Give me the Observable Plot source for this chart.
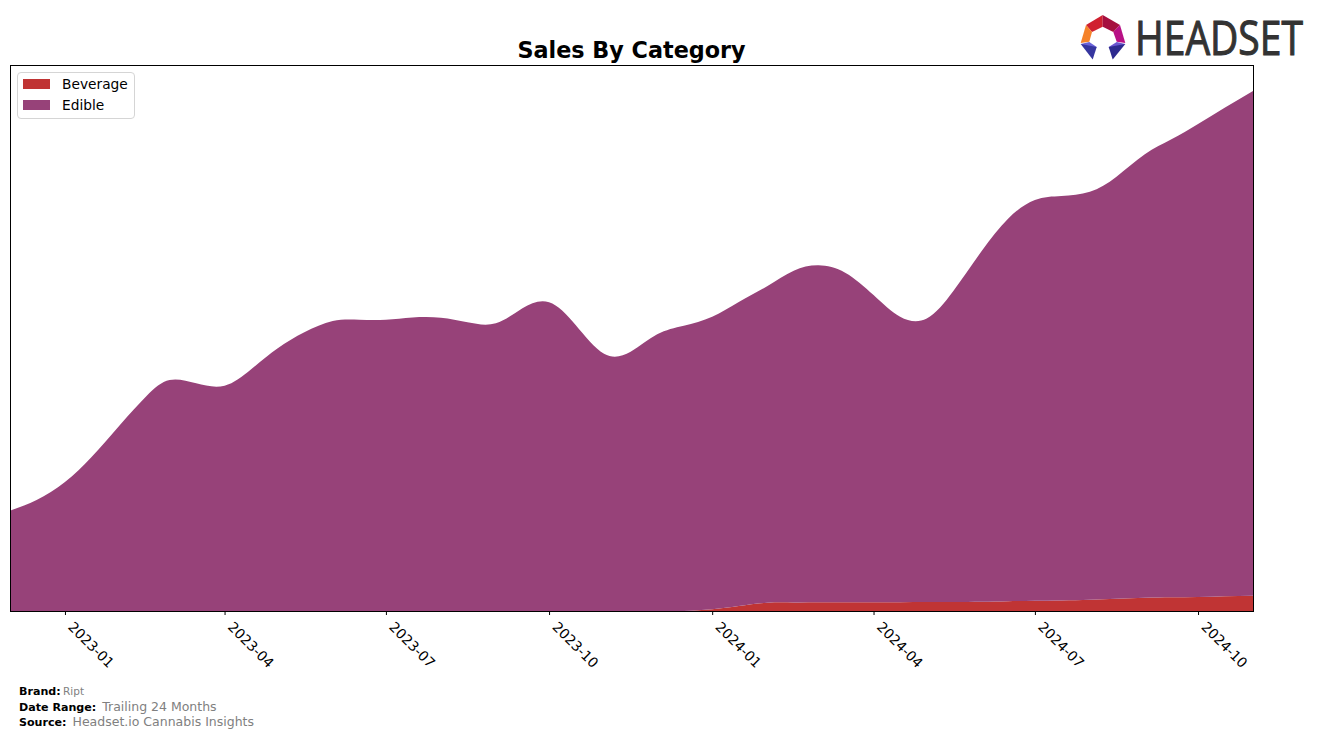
<!DOCTYPE html>
<html>
<head>
<meta charset="utf-8">
<script src="https://cdn.jsdelivr.net/npm/d3@7"></script>
<script src="https://cdn.jsdelivr.net/npm/@observablehq/plot@0.6"></script>
<style>
html,body{margin:0;padding:0;background:#fff;overflow:hidden;}
body{width:1317px;height:739px;position:relative;font-family:"DejaVu Sans",sans-serif;}
#chart{position:absolute;left:0;top:0;}
#title{position:absolute;left:10px;width:1243px;top:36px;text-align:center;font-size:22.3px;font-weight:bold;line-height:28px;color:#000;}
#legend{position:absolute;left:17px;top:72px;width:116px;height:45px;border:1px solid #d5d5d5;border-radius:4px;background:#fff;}
.item{position:absolute;left:5px;font-size:13.75px;line-height:16px;color:#000;white-space:nowrap;padding-left:39px;}
.sw{position:absolute;left:0;top:3px;width:27px;height:10px;}
.foot{position:absolute;left:19px;white-space:nowrap;line-height:14px;color:#808080;}
.foot b{color:#000;font-size:11.1px;margin-right:2px;}
#logo{position:absolute;left:1070px;top:0;}
</style>
</head>
<body>
<div id="chart"></div>
<div id="title">Sales By Category</div>
<div id="legend"></div>
<div class="foot" style="top:684px;font-size:10.5px;"><b style="margin-right:-1px">Brand:</b> Ript</div>
<div class="foot" style="top:700px;font-size:12.5px;"><b>Date Range:</b> Trailing 24 Months</div>
<div class="foot" style="top:715px;font-size:12.5px;"><b>Source:</b> Headset.io Cannabis Insights</div>
<svg id="logo" width="247" height="72" viewBox="1070 0 247 72">
  <polygon points="1102.7,15 1086,25 1092,32 1102.7,26.7" fill="#d0202f"/>
  <polygon points="1102.7,15 1120,25 1113.3,32 1102.7,26.7" fill="#a60f3f"/>
  <polygon points="1086,25 1080.7,43 1089.3,41.7 1092,32" fill="#f5822a"/>
  <polygon points="1120,25 1125.3,43 1116.7,41.7 1113.3,32" fill="#b81085"/>
  <polygon points="1080.7,44 1089.3,42 1096.7,47 1092.7,52" fill="#6a62d8"/>
  <polygon points="1080.7,44 1096.7,47 1092.7,59.5" fill="#36369f"/>
  <polygon points="1125.3,44 1116.7,42 1108.7,47 1112.7,52" fill="#6a55d0"/>
  <polygon points="1125.3,44 1108.7,47 1112.7,59.5" fill="#2d2a8f"/>
  <text transform="translate(1135,54.5) scale(1,1.205)" font-family="'Open Sans',Roboto,sans-serif" font-size="39" fill="#333333" stroke="#333333" stroke-width="0.9">HEADSET</text>
</svg>
<script>
const sampleDates = ["2022-12-01","2022-12-16","2023-01-01","2023-01-16","2023-02-01","2023-02-16","2023-03-01","2023-03-16","2023-04-01","2023-04-16","2023-05-01","2023-05-16","2023-06-01","2023-06-16","2023-07-01","2023-07-16","2023-08-01","2023-08-16","2023-09-01","2023-09-16","2023-10-01","2023-10-16","2023-11-01","2023-11-16","2023-12-01","2023-12-16","2024-01-01","2024-01-16","2024-02-01","2024-02-16","2024-03-01","2024-03-16","2024-04-01","2024-04-16","2024-05-01","2024-05-16","2024-06-01","2024-06-16","2024-07-01","2024-07-16","2024-08-01","2024-08-16","2024-09-01","2024-09-16","2024-10-01","2024-10-16","2024-11-01"];
const beverage = [0,0,0,0,0,0,0,0,0,0,0,0,0,0,0,0,0,0,0,0,0,0,0,0,0,0,1.7,5,8.3,8.6,8.7,8.7,8.7,8.8,9,9.1,9.3,9.8,10.3,10.6,11.3,12.2,13.3,13.7,14,14.7,15.3];
const edible = [100.3,111,129,154,186,215,231,227.7,225.3,241.7,262.7,278.7,290,291.3,291.3,293.5,293.3,288.7,287.7,302.7,308.7,286,257.3,259.3,276.7,285.3,292.6,304,316.5,331.7,337,329.6,307.3,285.5,283.5,310.9,350.7,382.8,400.7,404.4,408,422.1,443.4,458,473,488.6,504.7];
const categories = ["Beverage","Edible"];
const colors = ["#c03434","#974279"];
const tickMonths = ["2023-01-01","2023-04-01","2023-07-01","2023-10-01","2024-01-01","2024-04-01","2024-07-01","2024-10-01"];

const parse = d3.utcParse("%Y-%m-%d");
const rows = [];
sampleDates.forEach((m,i)=>rows.push({date:parse(m),category:"Beverage",value:beverage[i]}));
sampleDates.forEach((m,i)=>rows.push({date:parse(m),category:"Edible",value:edible[i]}));
const maxTotal = d3.max(sampleDates,(m,i)=>beverage[i]+edible[i]);

const plot = Plot.plot({
  width:1317,height:680,
  marginLeft:10,marginRight:64,marginTop:65,marginBottom:69,
  style:{background:"transparent",fontFamily:"DejaVu Sans",fontSize:"13.9px",color:"#000"},
  x:{type:"utc",domain:[parse(sampleDates[0]),parse(sampleDates[sampleDates.length-1])]},
  y:{domain:[0,maxTotal*1.05],axis:null},
  color:{domain:categories,range:colors},
  marks:[
    Plot.areaY(rows,{x:"date",y:"value",fill:"category",z:"category",order:categories,curve:"natural",clip:"frame"}),
    Plot.frame({stroke:"#000",strokeWidth:1}),
    Plot.axisX({ticks:tickMonths.map(parse),text:null,tickSize:4,label:null,stroke:"#000"}),
    Plot.axisX({ticks:tickMonths.map(parse),tickFormat:d3.utcFormat("%Y-%m"),tickRotate:45,tickSize:0,tickPadding:8,dx:5,dy:5,label:null,fill:"#000",fontSize:13.9})
  ]
});
document.getElementById("chart").appendChild(plot);

const legend = document.getElementById("legend");
categories.forEach((c,i)=>{
  const it=document.createElement("div");
  it.className="item";
  it.style.top=(3+i*21)+"px";
  it.textContent=c;
  const s=document.createElement("span");
  s.className="sw";
  s.style.background=colors[i];
  it.appendChild(s);
  legend.appendChild(it);
});
</script>
</body>
</html>
